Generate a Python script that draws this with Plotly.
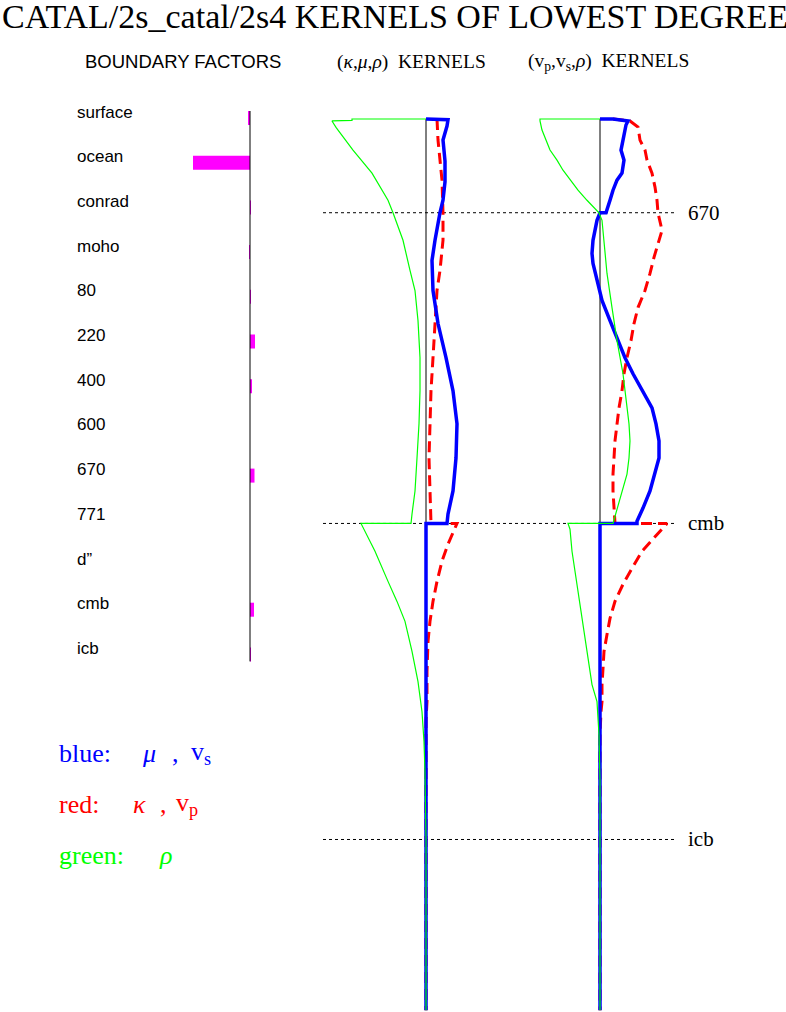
import plotly.graph_objects as go

W, H = 786, 1012

# ---------------- data ----------------
boundary_names = ["surface", "ocean", "conrad", "moho", "80", "220", "400", "600",
                  "670", "771", "d\u201d", "cmb", "icb"]
boundary_factors = [-2, -57, 1, -1, 1, 5, 1.5, 0, 4.5, 0, 0, 4, 1]

# panel 1: (kappa, mu, rho) kernels  -- depth (km), amplitude (arbitrary units)
k1_mu_depth = [0, 5, 50, 150, 300, 450, 580, 670, 867, 1011, 1226, 1462, 1706, 1943,
               2179, 2423, 2659, 2824, 2891, 2891, 6371]
k1_mu_val = [0, 22, 21, 17, 19, 19, 17, 14, 9, 6, 7, 12, 20, 27, 31, 30, 27, 22, 21, 0, 0]

k1_kappa_depth = [0, 150, 437, 670, 867, 1082, 1226, 1513, 1706, 1943, 2179, 2423, 2659,
                  2824, 2891, 2891, 3039, 3161, 3305, 3448, 3591, 3735, 3950, 4165, 4300,
                  5150, 6371]
k1_kappa_val = [11, 12, 16, 17, 17, 14, 11, 9, 7, 5, 4, 3, 4, 5, 5, 31, 22, 16, 11, 7, 4,
                2, 1, 1, 0, 0, 0]

k1_rho_depth = [0, 0, 10, 14, 60, 222, 387, 581, 670, 867, 1082, 1226, 1441, 1706, 1943,
                2179, 2423, 2659, 2824, 2891, 2891, 3090, 3305, 3448, 3591, 3806, 4022,
                4237, 4452, 4667, 5150, 6371]
k1_rho_val = [0, -74, -74, -94, -90, -73, -54, -38, -33, -23, -16, -11, -8, -6, -6, -7,
              -9, -11, -14, -15, -65, -51, -38, -29, -21, -14, -8, -4, -2, -1, 0, 0]

# panel 2: (vp, vs, rho) kernels
k2_vs_depth = [0, 0, 14, 43, 151, 222, 294, 387, 437, 509, 581, 670, 670, 724, 867, 961,
               1032, 1154, 1297, 1441, 1584, 1706, 1821, 1943, 2065, 2179, 2301, 2423,
               2538, 2659, 2781, 2875, 2891, 2891, 6371]
k2_vs_val = [0, 13, 28, 26, 23, 21, 24, 22, 17, 13, 10, 6, 0, -3, -7, -8, -7, -3, 2, 10,
             18, 25, 33, 43, 52, 56, 59, 59, 55, 50, 43, 37, 37, 0, 0]

k2_vp_depth = [0, 14, 57, 151, 222, 294, 387, 487, 581, 670, 796, 867, 989, 1104, 1226,
               1348, 1462, 1584, 1706, 1821, 1943, 2065, 2179, 2301, 2423, 2538, 2659,
               2781, 2875, 2891, 2891, 2968, 3090, 3211, 3326, 3448, 3570, 3685, 3806,
               3928, 4043, 4165, 4237, 4400, 6371]
k2_vp_val = [13, 30, 38, 40, 45, 47, 52, 55, 57, 58, 62, 59, 54, 50, 45, 38, 34, 31, 27,
             24, 22, 19, 17, 15, 14, 13, 13, 14, 15, 15, 67, 57, 42, 32, 23, 15, 10, 7, 4,
             3, 2, 2, 1, 0, 0]

k2_rho_depth = [0, 0, 14, 79, 222, 294, 366, 437, 509, 581, 670, 724, 867, 1104, 1348,
                1584, 1821, 2065, 2179, 2301, 2423, 2538, 2659, 2781, 2875, 2891, 2891,
                2932, 3090, 3326, 3570, 3806, 4043, 4165, 4287, 4401, 4738, 6371]
k2_rho_val = [0, -60, -60, -58, -50, -43, -37, -30, -22, -13, -1, 2, 4, 7, 12, 17, 23,
              27, 29, 30, 29, 27, 22, 17, 13, 13, -32, -30, -28, -23, -18, -13, -8, -3,
              -2, -1, 0, 0]

ref_depths = [670, 2891, 5150]
ref_labels = ["670", "cmb", "icb"]
mantle_depth = [0, 2891]

# ---------------- layout helpers ----------------
TOP_PX, KM_PX = 119.0, 0.1399
def px(x):
    return x / W
def py(y):
    return 1 - y / H

depth_range = [(H - TOP_PX) / KM_PX, -TOP_PX / KM_PX]
ROW0, ROWSTEP = 118.0, 44.7
row_range = [(H - ROW0) / ROWSTEP, -ROW0 / ROWSTEP]

RED, BLUE, GREEN, MAG = "#ff0000", "#0000ff", "#00ff00", "#ff00ff"

fig = go.Figure()

# zero lines
fig.add_trace(go.Scatter(x=[0, 0], y=mantle_depth, xaxis="x", yaxis="y", mode="lines",
                         line=dict(color="black", width=1), hoverinfo="skip"))
fig.add_trace(go.Scatter(x=[0, 0], y=mantle_depth, xaxis="x2", yaxis="y", mode="lines",
                         line=dict(color="black", width=1), hoverinfo="skip"))

red_line = dict(color=RED, width=3, dash="11px,6px")
blue_line = dict(color=BLUE, width=3.5)
green_line = dict(color=GREEN, width=1.2)

for xa, (rd, rv), (bd, bv), (gd, gv) in [
    ("x", (k1_kappa_depth, k1_kappa_val), (k1_mu_depth, k1_mu_val), (k1_rho_depth, k1_rho_val)),
    ("x2", (k2_vp_depth, k2_vp_val), (k2_vs_depth, k2_vs_val), (k2_rho_depth, k2_rho_val)),
]:
    fig.add_trace(go.Scatter(x=rv, y=rd, xaxis=xa, yaxis="y", mode="lines", line=red_line))
    fig.add_trace(go.Scatter(x=bv, y=bd, xaxis=xa, yaxis="y", mode="lines", line=blue_line))
    fig.add_trace(go.Scatter(x=gv, y=gd, xaxis=xa, yaxis="y", mode="lines", line=green_line))

# boundary factors
rows = list(range(len(boundary_names)))
BAR_W = 14 / ROWSTEP
fig.add_trace(go.Scatter(x=[0, 0], y=[-BAR_W / 2, rows[-1] + BAR_W / 2], xaxis="x3", yaxis="y2",
                         mode="lines", line=dict(color="black", width=1)))
fig.add_trace(go.Bar(x=boundary_factors, y=rows, base=0, orientation="h", width=BAR_W,
                     xaxis="x3", yaxis="y2", marker=dict(color=MAG, line=dict(width=0))))

hidden = dict(visible=False, domain=[0, 1])
fig.update_layout(
    width=W, height=H, margin=dict(l=0, r=0, t=0, b=0),
    paper_bgcolor="white", plot_bgcolor="white", showlegend=False,
    xaxis=dict(**hidden, range=[-426, W - 426]),
    xaxis2=dict(**hidden, range=[-600, W - 600], overlaying="x", anchor="y"),
    xaxis3=dict(**hidden, range=[-250, W - 250], overlaying="x", anchor="y2"),
    yaxis=dict(**hidden, range=depth_range),
    yaxis2=dict(**hidden, range=row_range, overlaying="y", anchor="x3"),
)

# dashed reference lines
for d in ref_depths:
    fig.add_shape(type="line", xref="paper", yref="y", x0=px(323), x1=px(676), y0=d, y1=d,
                  line=dict(color="black", width=1, dash="3px,3px"), layer="below")

SERIF = "Liberation Serif"
SANS = "Liberation Sans"

ann = []
for d, lab in zip(ref_depths, ref_labels):
    ann.append(dict(x=px(686), y=d, xref="paper", yref="y", text=lab, showarrow=False,
                    xanchor="left", yanchor="middle", font=dict(family=SERIF, size=21, color="black")))
for r, name in zip(rows, boundary_names):
    ann.append(dict(x=px(75), y=r, xref="paper", yref="y2", yshift=6, text=name, showarrow=False,
                    xanchor="left", yanchor="middle", font=dict(family=SANS, size=17, color="black")))

ann += [
    dict(x=0, y=py(16), xref="paper", yref="paper", text="CATAL/2s_catal/2s4 KERNELS OF LOWEST DEGREE",
         showarrow=False, xanchor="left", yanchor="middle", font=dict(family=SERIF, size=34, color="black")),
    dict(x=px(183), y=py(62), xref="paper", yref="paper", text="BOUNDARY FACTORS", showarrow=False,
         xanchor="center", yanchor="middle", font=dict(family=SANS, size=18.5, color="black")),
    dict(x=px(411), y=py(62), xref="paper", yref="paper",
         text="(<i>\u03ba</i>,<i>\u03bc</i>,<i>\u03c1</i>)  KERNELS", showarrow=False,
         xanchor="center", yanchor="middle", font=dict(family=SERIF, size=19.5, color="black")),
    dict(x=px(608), y=py(62), xref="paper", yref="paper",
         text="(v<sub>p</sub>,v<sub>s</sub>,<i>\u03c1</i>)  KERNELS", showarrow=False,
         xanchor="center", yanchor="middle", font=dict(family=SERIF, size=19.5, color="black")),
]

legend_rows = [
    (753, BLUE, [(57, "blue:"), (140, "<i>\u03bc</i>"), (170, ","), (189, "v<sub>s</sub>")]),
    (804, RED, [(57, "red:"), (131, "<i>\u03ba</i>"), (158, ","), (174, "v<sub>p</sub>")]),
    (855, GREEN, [(57, "green:"), (157, "<i>\u03c1</i>")]),
]
for yy, col, parts in legend_rows:
    for xx, t in parts:
        ann.append(dict(x=px(xx), y=py(yy), xref="paper", yref="paper", text=t, showarrow=False,
                        xanchor="left", yanchor="middle", font=dict(family=SERIF, size=26, color=col)))

fig.update_layout(annotations=ann)

fig.write_html("out.html", config={"displayModeBar": False},
               post_script="document.body.style.margin='0';document.body.style.overflow='hidden';")
